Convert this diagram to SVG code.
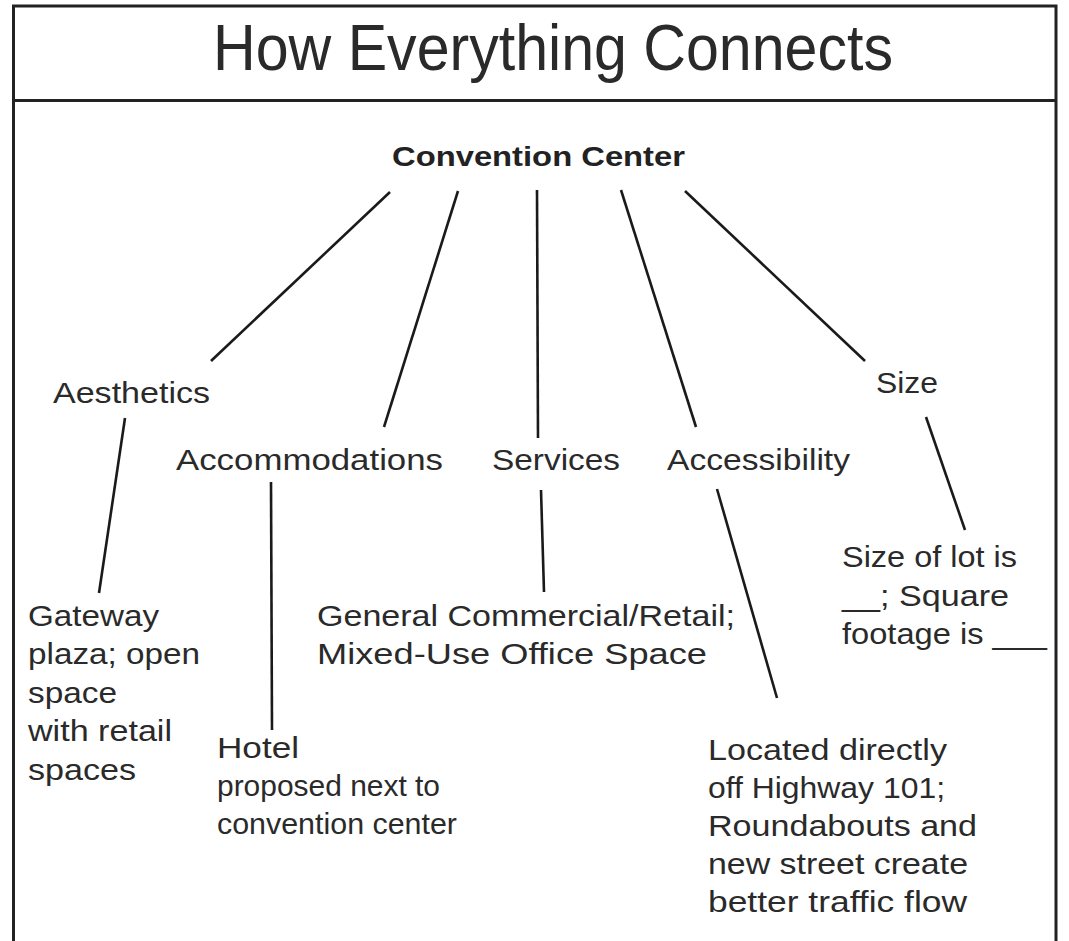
<svg xmlns="http://www.w3.org/2000/svg" width="1069" height="941" viewBox="0 0 1069 941">
<style>
.t{font-family:"Liberation Sans","DejaVu Sans",sans-serif;font-size:29px;fill:#2a2a2a;}
.b{font-family:"Liberation Sans","DejaVu Sans",sans-serif;font-size:28px;font-weight:bold;fill:#222;}
.h{font-family:"Liberation Sans","DejaVu Sans",sans-serif;font-size:64px;fill:#2a2a2a;}
.c line{stroke:#1a1a1a;stroke-width:2.6;stroke-linecap:butt;}
.frame{fill:none;stroke:#222;stroke-width:3;}
</style>
<rect width="1069" height="941" fill="#fff"/>
<g id="frame">
<path class="frame" d="M13.5,960 V6 H1056 V960"/>
<line class="frame" x1="13.5" y1="100.5" x2="1056" y2="100.5"/>
<text class="h" x="213" y="70" textLength="680" lengthAdjust="spacingAndGlyphs">How Everything Connects</text>
</g>
<g class="c" id="connectors">
<line x1="390" y1="192" x2="211" y2="361"/>
<line x1="458" y1="191" x2="384" y2="427"/>
<line x1="537" y1="190" x2="538" y2="438"/>
<line x1="621" y1="190" x2="696" y2="427"/>
<line x1="685" y1="191" x2="865" y2="361"/>
<line x1="125" y1="418" x2="99" y2="593"/>
<line x1="271" y1="482" x2="272" y2="730"/>
<line x1="541" y1="490" x2="544" y2="592"/>
<line x1="717" y1="489" x2="777" y2="698"/>
<line x1="926" y1="417" x2="965" y2="530"/>
</g>
<g id="n-center"><text class="b" x="392" y="166" textLength="293" lengthAdjust="spacingAndGlyphs">Convention Center</text></g>
<g id="n-aesthetics"><text class="t" x="53" y="403" textLength="157" lengthAdjust="spacingAndGlyphs">Aesthetics</text></g>
<g id="n-accommodations"><text class="t" x="176" y="470" textLength="267" lengthAdjust="spacingAndGlyphs">Accommodations</text></g>
<g id="n-services"><text class="t" x="492" y="470" textLength="128" lengthAdjust="spacingAndGlyphs">Services</text></g>
<g id="n-accessibility"><text class="t" x="667" y="470" textLength="183" lengthAdjust="spacingAndGlyphs">Accessibility</text></g>
<g id="n-size"><text class="t" x="876" y="393" textLength="62" lengthAdjust="spacingAndGlyphs">Size</text></g>
<g id="n-gateway">
<text class="t" x="28" y="626" textLength="131" lengthAdjust="spacingAndGlyphs">Gateway</text>
<text class="t" x="28" y="664" textLength="172" lengthAdjust="spacingAndGlyphs">plaza; open</text>
<text class="t" x="28" y="703" textLength="89" lengthAdjust="spacingAndGlyphs">space</text>
<text class="t" x="28" y="741" textLength="144" lengthAdjust="spacingAndGlyphs">with retail</text>
<text class="t" x="28" y="780" textLength="108" lengthAdjust="spacingAndGlyphs">spaces</text>
</g>
<g id="n-hotel">
<text class="t" x="217" y="758" textLength="82" lengthAdjust="spacingAndGlyphs">Hotel</text>
<text class="t" x="217" y="796" textLength="223" lengthAdjust="spacingAndGlyphs">proposed next to</text>
<text class="t" x="217" y="834" textLength="240" lengthAdjust="spacingAndGlyphs">convention center</text>
</g>
<g id="n-general">
<text class="t" x="317" y="626" textLength="418" lengthAdjust="spacingAndGlyphs">General Commercial/Retail;</text>
<text class="t" x="317" y="664" textLength="390" lengthAdjust="spacingAndGlyphs">Mixed-Use Office Space</text>
</g>
<g id="n-located">
<text class="t" x="708" y="760" textLength="239" lengthAdjust="spacingAndGlyphs">Located directly</text>
<text class="t" x="708" y="798" textLength="237" lengthAdjust="spacingAndGlyphs">off Highway 101;</text>
<text class="t" x="708" y="836" textLength="269" lengthAdjust="spacingAndGlyphs">Roundabouts and</text>
<text class="t" x="708" y="874" textLength="260" lengthAdjust="spacingAndGlyphs">new street create</text>
<text class="t" x="708" y="912" textLength="259" lengthAdjust="spacingAndGlyphs">better traffic flow</text>
</g>
<g id="n-sizelot">
<text class="t" x="842" y="567" textLength="175" lengthAdjust="spacingAndGlyphs">Size of lot is</text>
<text class="t" x="842" y="606" textLength="167" lengthAdjust="spacingAndGlyphs">__; Square</text>
<text class="t" x="842" y="644" textLength="205" lengthAdjust="spacingAndGlyphs">footage is ___</text>
</g>
</svg>
